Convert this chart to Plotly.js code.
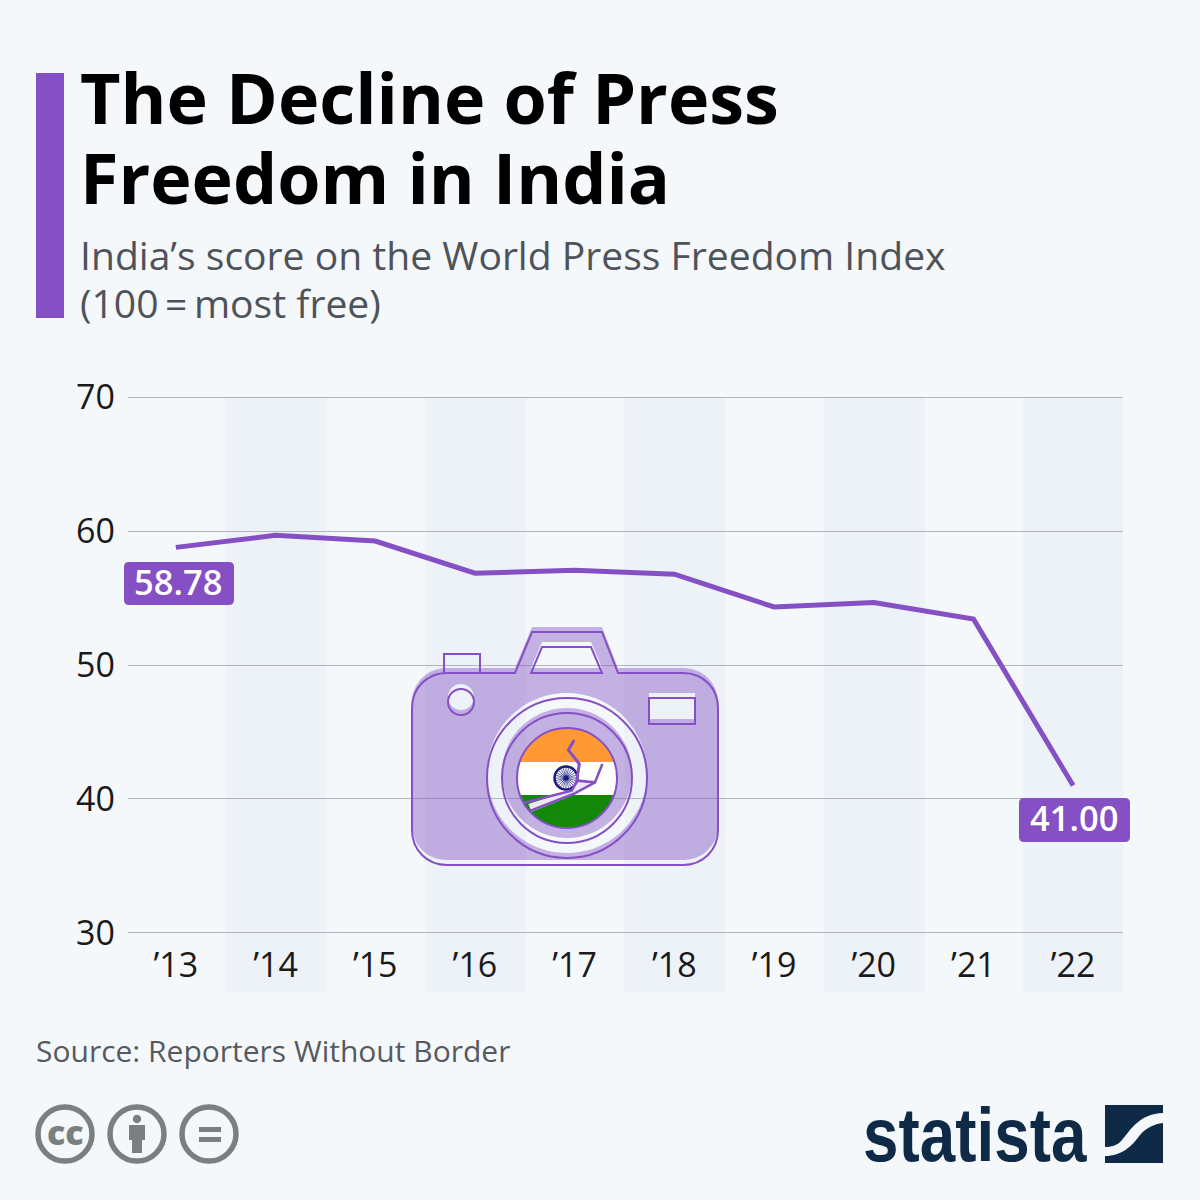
<!DOCTYPE html>
<html>
<head>
<meta charset="utf-8">
<script src="https://cdn.plot.ly/plotly-3.0.1.min.js"></script>
<style>html,body{margin:0;padding:0;background:#f5f8fb}#chart{width:1200px;height:1200px}</style>
</head>
<body>
<div id="chart"></div>
<script>
// ---- data ----
const years = ['’13','’14','’15','’16','’17','’18','’19','’20','’21','’22'];
const scores = [58.78,59.68,59.25,56.85,57.08,56.78,54.33,54.67,53.44,41.00];
const yTicks = [30,40,50,60,70];
const bandIdx = [1,3,5,7,9];
const titleText = 'The Decline of Press<br>Freedom in India';
const subtitle1 = 'India’s score on the World Press Freedom Index';
const subtitle2 = '(100\u2009=\u2009most free)';
const sourceText = 'Source: Reporters Without Border';

// ---- styling ----
const PURPLE = '#8550c4', FONT = '"Open Sans", sans-serif', GREY = '#7a8080', NAVY = '#0f2a47';
const PX = {xref:'x2', yref:'y2'};

// ---- decoration helpers (page pixel coordinates on hidden axes) ----
function circ(cx,cy,r){
  const k=0.5523*r;
  return `M${cx-r},${cy}C${cx-r},${cy-k} ${cx-k},${cy-r} ${cx},${cy-r}`+
         `C${cx+k},${cy-r} ${cx+r},${cy-k} ${cx+r},${cy}`+
         `C${cx+r},${cy+k} ${cx+k},${cy+r} ${cx},${cy+r}`+
         `C${cx-k},${cy+r} ${cx-r},${cy+k} ${cx-r},${cy}Z`;
}
function rrect(x0,y0,x1,y1,r){
  return `M${x0+r},${y0}L${x1-r},${y0}Q${x1},${y0} ${x1},${y0+r}L${x1},${y1-r}Q${x1},${y1} ${x1-r},${y1}`+
         `L${x0+r},${y1}Q${x0},${y1} ${x0},${y1-r}L${x0},${y0+r}Q${x0},${y0} ${x0+r},${y0}Z`;
}
function arcPoly(cx,cy,r,a0,a1){
  let d='';
  for(let i=0;i<=40;i++){
    const a=a0+(a1-a0)*i/40;
    d+=(i?'L':'M')+(cx+r*Math.cos(a))+','+(cy+r*Math.sin(a));
  }
  return d+'Z';
}
// camera body outline, shifted vertically by dy
function bodyPath(dy){
  const o=(x,y)=>x+','+(y+dy);
  return `M${o(447,673)}L${o(515,673)}L${o(532,632)}L${o(602,632)}L${o(618,673)}L${o(683,673)}`+
    `C${o(703,673)} ${o(718,688)} ${o(718,708)}L${o(718,830)}C${o(718,850)} ${o(703,865)} ${o(683,865)}`+
    `L${o(447,865)}C${o(427,865)} ${o(412,850)} ${o(412,830)}L${o(412,708)}C${o(412,688)} ${o(427,673)} ${o(447,673)}Z`;
}
function windowPath(dy){
  const o=(x,y)=>x+','+(y+dy);
  return `M${o(542,647)}L${o(591,647)}L${o(602,673)}L${o(531,673)}Z`;
}
function rectPath(x0,y0,x1,y1){ return `M${x0},${y0}L${x1},${y0}L${x1},${y1}L${x0},${y1}Z`; }
// crack geometry given in camera-local units
function crackPts(pts){ return pts.map((p,i)=>(i?'L':'M')+(400+p[0]/3)+','+(620+p[1]/3)).join(''); }

const shapes = [];
// alternating column bands, drawn under the grid
bandIdx.forEach(i => shapes.push({type:'rect', layer:'below', xref:'x', yref:'paper',
  x0:i-0.5, x1:Math.min(i+0.51,9.5), y0:(1200-992)/1200, y1:(1200-397)/1200, fillcolor:'#edf1f8', line:{width:0}}));
// heading accent bar
shapes.push({type:'rect', layer:'above', ...PX, x0:36, x1:64, y0:73, y1:318, fillcolor:PURPLE, line:{width:0}});

// camera: translucent fill with holes, offset from its outline
const S = (path, o) => shapes.push(Object.assign({type:'path', layer:'above', ...PX, path, line:{width:0}}, o));
S(bodyPath(-5)+windowPath(-5)+circ(461,697,13)+rectPath(649,693,695,719)+circ(567,773,80)+circ(567,773,65),
  {fillcolor:'rgba(128,78,196,0.42)', fillrule:'evenodd'});
const strokeOnly = {fillcolor:'rgba(0,0,0,0)', line:{color:PURPLE, width:2}};
S(bodyPath(0), strokeOnly);
S(windowPath(0), strokeOnly);
S('M444,673L444,654L480,654L480,673', strokeOnly);
S(circ(461,702,13), strokeOnly);
S(rectPath(649,698,695,724), strokeOnly);
S(circ(567,778,80), strokeOnly);
S(circ(567,778,65), strokeOnly);
// flag in lens
S(circ(567,778,50), {fillcolor:'#ffffff'});
const cut1=Math.asin(-16/50), cut2=Math.asin(17/50);
S(arcPoly(567,778,50,Math.PI-cut1,2*Math.PI+cut1), {fillcolor:'#ff9933'});
S(arcPoly(567,778,50,cut2,Math.PI-cut2), {fillcolor:'#138808'});
S(circ(566,778,11.5), {fillcolor:'#ffffff', line:{color:'#1a1a80', width:2.5}});
let spokes='';
for(let k=0;k<24;k++){
  const a=k*Math.PI/12;
  spokes+=`M566,778L${566+10*Math.cos(a)},${778+10*Math.sin(a)}`;
}
S(spokes, {fillcolor:'rgba(0,0,0,0)', line:{color:'#1a1a80', width:0.7}});
S(circ(566,778,2.5), {fillcolor:'#1a1a80'});
S(circ(567,778,50), strokeOnly);
// crack across the flag
S(crackPts([[385,552],[515,510],[535,487],[585,487],[520,525],[395,575]])+'Z', {fillcolor:'#ece6f7'});
S(crackPts([[372,548],[515,512],[532,482],[585,487],[607,432]]), {fillcolor:'rgba(0,0,0,0)', line:{color:PURPLE, width:2.5}});
S(crackPts([[523,360],[505,390],[538,432],[530,482]]), {fillcolor:'rgba(0,0,0,0)', line:{color:PURPLE, width:3}});
S(crackPts([[392,572],[520,522],[585,487]]), {fillcolor:'rgba(0,0,0,0)', line:{color:PURPLE, width:2.5}});

// value label boxes
S(rrect(124,562,234,605,5), {fillcolor:PURPLE});
S(rrect(1019,798,1130,842,5), {fillcolor:PURPLE});

// licence icons
[65,137,209].forEach(cx => S(circ(cx,1134,27), {fillcolor:'rgba(0,0,0,0)', line:{color:GREY, width:5.5}}));
S(circ(137,1119,4.2), {fillcolor:GREY});
S(rectPath(129,1125,145,1140), {fillcolor:GREY});
S(rectPath(132,1140,142,1153), {fillcolor:GREY});
S(rectPath(199,1127,221,1132), {fillcolor:GREY});
S(rectPath(199,1137,221,1142), {fillcolor:GREY});

// brand mark
S('M1105,1105L1163,1105L1163,1113C1140,1114 1132,1128 1122,1140C1117,1146 1111,1147 1105,1147Z', {fillcolor:NAVY});
S('M1163,1123L1163,1163L1105,1163L1105,1156C1122,1156 1132,1146 1140,1135C1146,1128 1154,1124 1163,1123Z', {fillcolor:NAVY});

const note = (text,x,y,size,color,extra) => Object.assign({text, ...PX, x, y, xanchor:'left', yanchor:'middle',
  showarrow:false, align:'left', font:{family:FONT, size, color}}, extra||{});

const annotations = [
  note(subtitle1, 78, 254, 39.1, '#4e5359'),
  note(subtitle2, 78, 302, 39.1, '#4e5359'),
  note(sourceText, 34, 1050, 30, '#555a60'),
  note('cc', 65, 1132, 34, GREY, {xanchor:'center', font:{family:'"Open Sans", sans-serif', size:34, color:GREY, weight:800}}),
  note('statista', 861, 1134, 76, NAVY, {font:{family:'"Liberation Sans",sans-serif', size:76, color:NAVY, weight:700}}),
  {text:scores[0].toFixed(2), xref:'x', yref:'y', x:0, y:scores[0], xshift:2, yshift:-34, showarrow:false,
    font:{family:FONT, size:34.5, color:'#ffffff', weight:600}},
  {text:scores[9].toFixed(2), xref:'x', yref:'y', x:9, y:scores[9], xshift:1, yshift:-32, showarrow:false,
    font:{family:FONT, size:34.5, color:'#ffffff', weight:600}}
];

const traces = [
  {type:'scatter', mode:'lines', x:years, y:scores, line:{color:PURPLE, width:5}, hoverinfo:'skip', showlegend:false},
  {type:'scatter', mode:'markers', x:[0,1200], y:[0,1200], xaxis:'x2', yaxis:'y2', marker:{opacity:0}, hoverinfo:'skip', showlegend:false}
];

const layout = {
  width:1200, height:1200,
  margin:{l:0,r:0,t:0,b:0,pad:0},
  paper_bgcolor:'#f5f8fb', plot_bgcolor:'rgba(0,0,0,0)',
  showlegend:false, hovermode:false,
  title:{text:titleText, x:80/1200, xanchor:'left', xref:'paper', y:(1200-124)/1200, yanchor:'bottom', yref:'paper',
    font:{family:FONT, size:70, color:'#000000', weight:700}},
  xaxis:{domain:[128/1200,1123/1200], type:'category', categoryorder:'array', categoryarray:years,
    range:[-0.48,9.5], showgrid:false, zeroline:false, showline:false, ticks:'', ticklabelstandoff:7,
    tickfont:{family:FONT, size:34, color:'#1a1a1a'}, anchor:'y', fixedrange:true},
  yaxis:{domain:[(1200-934.84)/1200,(1200-395.16)/1200], range:[29.86,70.14], tickvals:yTicks, ticktext:yTicks.map(String),
    showgrid:true, gridcolor:'#b2b6bc', gridwidth:1, zeroline:false, showline:false, ticks:'', ticklabelstandoff:12,
    tickfont:{family:FONT, size:34, color:'#1a1a1a'}, anchor:'x', fixedrange:true},
  xaxis2:{domain:[0,1], range:[0,1200], visible:false, anchor:'y2', fixedrange:true},
  yaxis2:{domain:[0,1], range:[1200,0], visible:false, anchor:'x2', fixedrange:true},
  shapes, annotations
};

Plotly.newPlot('chart', traces, layout, {staticPlot:true, displayModeBar:false}).then(() => {
  // tighter title leading than Plotly's default 1.3em
  const lines = document.querySelectorAll('.gtitle tspan.line');
  if (lines.length > 1) lines[1].setAttribute('dy', '80px');
  // condensed wordmark
  document.querySelectorAll('.annotation').forEach(g => {
    const t = g.querySelector('text');
    if (t && t.textContent === 'statista') {
      const b = t.getBBox();
      const k = 224 / b.width;
      t.setAttribute('transform', `translate(${b.x},0) scale(${k},1) translate(${-b.x},0)`);
    }
  });
});
</script>
</body>
</html>
